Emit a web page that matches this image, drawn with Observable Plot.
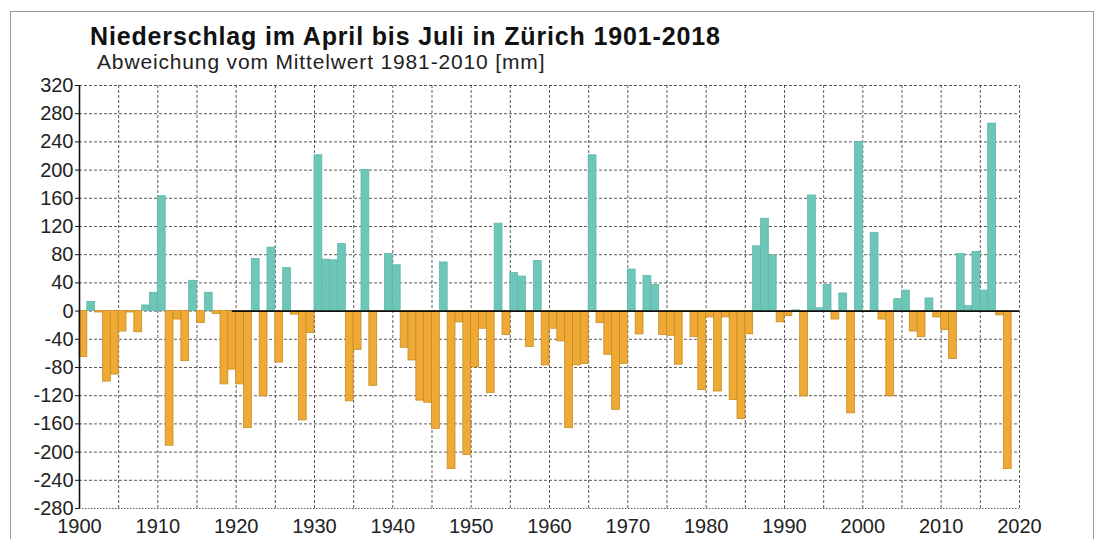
<!DOCTYPE html>
<html><head><meta charset="utf-8">
<script src="https://cdn.jsdelivr.net/npm/d3@7"></script>
<script src="https://cdn.jsdelivr.net/npm/@observablehq/plot@0.6"></script>
<style>
html,body{margin:0;padding:0;background:#fff;width:1103px;height:539px;overflow:hidden;font-family:"Liberation Sans",Arial,sans-serif;}
#frame{position:absolute;left:10px;top:11px;width:1082px;height:560px;border:1px solid #9a9a9a;pointer-events:none;}
#head{position:relative;height:78px;}
#title{position:absolute;left:90px;top:24px;font-size:25px;font-weight:bold;line-height:1;letter-spacing:0.85px;color:#111;white-space:nowrap;}
#subtitle{position:absolute;left:97px;top:51px;font-size:21px;line-height:1;letter-spacing:0.85px;color:#222;white-space:nowrap;}
#chart{position:relative;}
</style></head><body>
<div id="frame"></div>
<div id="head"><div id="title">Niederschlag im April bis Juli in Zürich 1901-2018</div><div id="subtitle">Abweichung vom Mittelwert 1981-2010 [mm]</div></div>
<div id="chart"></div>
<script>
// Years shown (one bar per year)
const firstYear = 1900;
// Deviation from 1981-2010 mean [mm], 1900..2018
const values = [
  -65, 13, -2, -100, -90, -29, -2, -30, 8, 26,        // 1900-1909
  163, -191, -12, -71, 43, -17, 26, -4, -104, -83,    // 1910-1919
  -104, -166, 74, -121, 90, -73, 61, -5, -155, -31,   // 1920-1929
  221, 73, 72, 95, -128, -55, 200, -106, -1, 81,      // 1930-1939
  65, -52, -70, -127, -130, -167, 69, -224, -16, -204,// 1940-1949
  -80, -25, -116, 124, -34, 54, 49, -51, 71, -77,     // 1950-1959
  -25, -43, -166, -77, -75, 221, -17, -62, -140, -75, // 1960-1969
  59, -33, 50, 37, -34, -35, -76, -1, -37, -112,      // 1970-1979
  -9, -114, -9, -126, -153, -33, 92, 131, 79, -16,    // 1980-1989
  -7, 1, -121, 164, 4, 37, -12, 25, -145, 240,        // 1990-1999
  -1, 111, -12, -121, 17, 29, -29, -37, 18, -9,       // 2000-2009
  -27, -68, 81, 7, 84, 29, 266, -6, -224              // 2010-2018
];
const years = values.map((v, i) => firstYear + i);
const yTicks = [-280, -240, -200, -160, -120, -80, -40, 0, 40, 80, 120, 160, 200, 240, 280, 320];
const xTicks = [1900, 1910, 1920, 1930, 1940, 1950, 1960, 1970, 1980, 1990, 2000, 2010, 2020];
const xGrid = [1905, 1910, 1915, 1920, 1925, 1930, 1935, 1940, 1945, 1950, 1955, 1960, 1965, 1970, 1975, 1980, 1985, 1990, 1995, 2000, 2005, 2010, 2015, 2020];
const zeroLineStart = 1919.5;

const data = years.map((y, i) => ({year: y, value: values[i]}));
const pos = data.filter(d => d.value >= 0);
const neg = data.filter(d => d.value < 0);

const tealFill = "#6ec6b9", tealStroke = "#5db8aa";
const orangeFill = "#efaa35", orangeStroke = "#c98b22";
const gridStyle = {stroke: "#333", strokeOpacity: 0.8, strokeDasharray: "3,2", strokeWidth: 1};

const chart = Plot.plot({
  width: 1103, height: 461,
  marginLeft: 79, marginRight: 84, marginTop: 7, marginBottom: 31,
  x: {domain: [1900, 2020], label: null},
  y: {domain: [-280, 320], label: null},
  style: {fontFamily: "'Liberation Sans', Arial, sans-serif", fontSize: "20px", color: "#222", background: "transparent", overflow: "visible"},
  marks: [
    Plot.gridY(yTicks.filter(t => t !== -280), gridStyle),
    Plot.gridY([-280], {stroke: "#333", strokeOpacity: 0.8, strokeDasharray: "1.5,1.5"}),
    Plot.gridX(xGrid, gridStyle),
    Plot.rect(pos, {x1: "year", x2: d => d.year + 1, y1: d => 0, y2: "value", fill: tealFill, stroke: tealStroke, strokeWidth: 0.8}),
    Plot.rect(neg, {x1: "year", x2: d => d.year + 1, y1: d => 0, y2: "value", fill: orangeFill, stroke: orangeStroke, strokeWidth: 0.8}),
    Plot.ruleY([0], {x1: zeroLineStart, x2: 2020, stroke: "#111", strokeWidth: 1.6}),
    Plot.ruleX([1900], {stroke: "#111", strokeWidth: 1.6}),
    Plot.axisY(yTicks, {tickSize: 4, tickPadding: 2, tickFormat: d => String(d), fontSize: 20, stroke: "#111", label: null}),
    Plot.axisX(xTicks, {tickSize: 0, tickPadding: 10, tickFormat: d => String(d), fontSize: 20, label: null})
  ]
});
document.getElementById("chart").appendChild(chart);
</script>
</body></html>
